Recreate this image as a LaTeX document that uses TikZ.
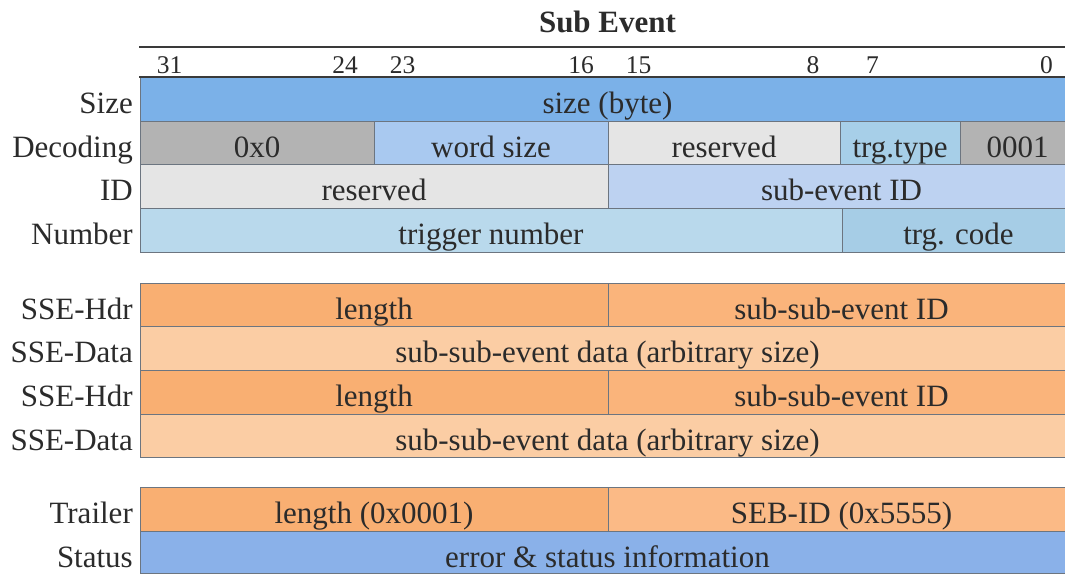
\documentclass[tikz,border=0pt]{standalone}
\usepackage{fontspec}
\setmainfont{Liberation Serif}

\definecolor{ink}{HTML}{2B2B2B}
\definecolor{cellline}{HTML}{6C7580}
\definecolor{rule}{HTML}{3A3A3A}
\definecolor{sizeblue}{HTML}{7BB1E8}
\definecolor{midgray}{HTML}{B3B3B3}
\definecolor{wordblue}{HTML}{A9C9F0}
\definecolor{resgray}{HTML}{E5E5E5}
\definecolor{trgtype}{HTML}{A7CFE8}
\definecolor{subid}{HTML}{BDD2F1}
\definecolor{trgnum}{HTML}{B9D9EC}
\definecolor{trgcode}{HTML}{A6CDE6}
\definecolor{hdrorange}{HTML}{F9AF72}
\definecolor{hdrorangeB}{HTML}{FAB47B}
\definecolor{datapeach}{HTML}{FBCDA4}
\definecolor{sebid}{HTML}{FBBA86}
\definecolor{statusblue}{HTML}{8AB1E9}

% one field of the word layout: name, left, right, top, bottom, fill, text
\newcommand\field[7]{%
  \node[cellbox, fill=#6, minimum width={(#3)-(#2)}, minimum height={(#5)-(#4)}] (#1) at (#2,#4) {};
  \node[celltext] (#1-text) at ({((#2)+(#3))/2},{(#4)+36.5}) {#7};
}

\begin{document}
\begin{tikzpicture}[x=1pt,y=-1pt,
  cellbox/.style={draw=cellline, line width=0.9pt, inner sep=0pt, outer sep=0pt, anchor=north west},
  celltext/.style={anchor=base, inner sep=0pt, font=\fontsize{31}{36}\selectfont, text=ink},
  rowlabel/.style={anchor=base east, inner sep=0pt, font=\fontsize{31}{36}\selectfont, text=ink},
  bitnum/.style={anchor=base, inner sep=0pt, font=\fontsize{25.5}{30}\selectfont, text=ink},
  headrule/.style={draw=rule, line width=2pt}]

\useasboundingbox (0,0) rectangle (1065,574);

% title and bit numbering
\node[anchor=base, inner sep=0pt, text=ink, font=\bfseries\fontsize{31}{36}\selectfont] (title) at (607.5,32.5) {Sub Event};
\coordinate (ruleA-l) at (139,47);
\coordinate (ruleA-r) at (1076,47);
\draw[headrule] (ruleA-l) -- (ruleA-r);

\node[bitnum] (b31) at (169.5,73) {31};
\node[bitnum] (b24) at (345,73) {24};
\node[bitnum] (b23) at (402.5,73) {23};
\node[bitnum] (b16) at (581,73) {16};
\node[bitnum] (b15) at (638.5,73) {15};
\node[bitnum] (b8) at (813,73) {8};
\node[bitnum] (b7) at (872.5,73) {7};
\node[bitnum] (b0) at (1046.5,73) {0};

% header words
\field{size}{140}{1075}{77}{121}{sizeblue}{size (byte)}
\field{dec0}{140}{374}{121}{164}{midgray}{0x0}
\field{decws}{374}{608}{121}{164}{wordblue}{word size}
\field{decres}{608}{840}{121}{164}{resgray}{reserved}
\field{dectt}{840}{960}{121}{164}{trgtype}{trg.type}
\field{dec1}{960}{1075}{121}{164}{midgray}{0001}
\field{idres}{140}{608}{164}{208}{resgray}{reserved}
\field{idsub}{608}{1075}{164}{208}{subid}{sub-event ID}
\field{numtrg}{140}{842}{208}{252}{trgnum}{trigger number}
\field{numcode}{842}{1075}{208}{252}{trgcode}{trg. code}

\coordinate (ruleB-l) at (139,76.5);
\coordinate (ruleB-r) at (1076,76.5);
\draw[headrule] (ruleB-l) -- (ruleB-r);

% sub-sub-events
\field{hdrAlen}{140}{608}{283}{326}{hdrorange}{length}
\field{hdrAid}{608}{1075}{283}{326}{hdrorangeB}{sub-sub-event ID}
\field{dataA}{140}{1075}{326}{370}{datapeach}{sub-sub-event data (arbitrary size)}
\field{hdrBlen}{140}{608}{370}{414}{hdrorange}{length}
\field{hdrBid}{608}{1075}{370}{414}{hdrorangeB}{sub-sub-event ID}
\field{dataB}{140}{1075}{414}{457}{datapeach}{sub-sub-event data (arbitrary size)}

% trailer
\field{trlen}{140}{608}{487}{531}{hdrorange}{length (0x0001)}
\field{trseb}{608}{1075}{487}{531}{sebid}{SEB-ID (0x5555)}
\field{status}{140}{1075}{531}{573}{statusblue}{error \& status information}

% row labels
\node[rowlabel] (lab-size) at (133,113.5) {Size};
\node[rowlabel] (lab-dec) at (133,157.5) {Decoding};
\node[rowlabel] (lab-id) at (133,200.5) {ID};
\node[rowlabel] (lab-num) at (133,244.5) {Number};
\node[rowlabel] (lab-hdrA) at (133,319.5) {SSE-Hdr};
\node[rowlabel] (lab-dataA) at (133,362.5) {SSE-Data};
\node[rowlabel] (lab-hdrB) at (133,406.5) {SSE-Hdr};
\node[rowlabel] (lab-dataB) at (133,450.5) {SSE-Data};
\node[rowlabel] (lab-tr) at (133,523.5) {Trailer};
\node[rowlabel] (lab-st) at (133,567.5) {Status};
\end{tikzpicture}
\end{document}
